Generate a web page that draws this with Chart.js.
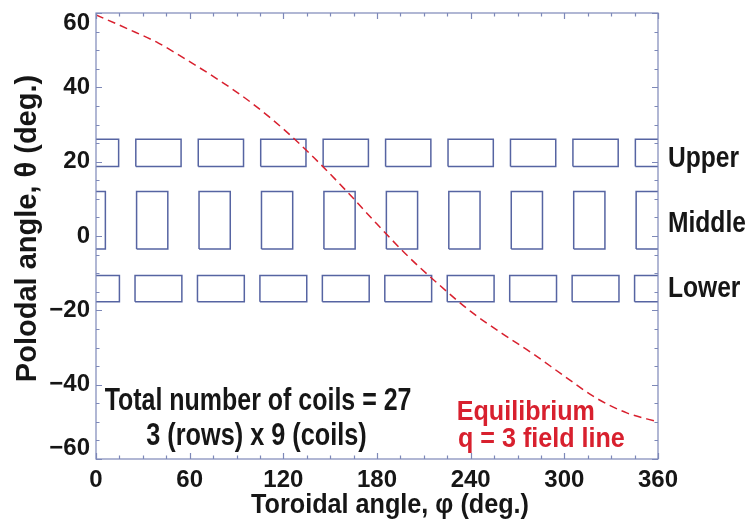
<!DOCTYPE html>
<html>
<head>
<meta charset="utf-8">
<script src="https://cdn.jsdelivr.net/npm/chart.js@4.4.1/dist/chart.umd.min.js"></script>
<style>
  html, body { margin: 0; padding: 0; background: #fff; }
  #wrap { width: 750px; height: 529px; position: relative; }
</style>
</head>
<body>
<div id="wrap"><canvas id="coilChart"></canvas></div>
<script>
// ==========================================
// 1. DATA
// ==========================================
// q = 3 equilibrium field line: toroidal angle (deg) -> poloidal angle (deg)
const phiSamples   = [0, 20, 40, 60, 80, 100, 120, 140, 160, 180, 200, 220, 240, 260, 280, 300, 320, 340, 360];
const thetaSamples = [59.5, 55.8, 51.9, 46.9, 41.6, 35.7, 28.8, 20.9, 12.3, 3.2, -5.5, -13.2, -20.3, -26.2, -31.7, -37.7, -43.5, -47.6, -50];

// coil centres in toroidal angle (9 per row, 0 and 360 are the same coil)
const upperCenters  = [0, 40, 80, 120, 160, 200, 240, 280, 320, 360];
const middleCenters = [-4, 36, 76, 116, 156, 196, 236, 276, 316, 356];
const lowerCenters  = [0, 40, 80, 120, 160, 200, 240, 280, 320, 360];

// coil half-width in toroidal angle, and poloidal extent [bottom, top]
const upperHalfWidth  = 14.5;
const middleHalfWidth = 10;
const lowerHalfWidth  = 15;
const upperTheta  = [18.7, 26];
const middleTheta = [-3.5, 12];
const lowerTheta  = [-17.7, -10.6];

const xTickValues = [0, 60, 120, 180, 240, 300, 360];
const yTickValues = [-60, -40, -20, 0, 20, 40, 60];
const rowLabels = ['Upper', 'Middle', 'Lower'];

// ==========================================
// 2. STYLE
// ==========================================
const SANS = '"Liberation Sans", Arial, sans-serif';
const TEXT = '#161616';
const RED = '#d8202e';
const FRAME = '#7d88b8';
const COIL = '#5664a2';

// outline of each coil as a closed path, null between coils
function coilOutline(centers, half, theta) {
  const pts = [];
  centers.forEach((c) => {
    pts.push({ x: c - half, y: theta[0] }, { x: c + half, y: theta[0] },
             { x: c + half, y: theta[1] }, { x: c - half, y: theta[1] },
             { x: c - half, y: theta[0] }, { x: c, y: null });
  });
  return pts;
}

const minus = (v) => String(v).replace('-', '\u2212');

// text squeezed horizontally (the figure uses a condensed face)
function squeezed(ctx, str, x, y, sx) {
  ctx.save();
  ctx.translate(x, y);
  ctx.scale(sx, 1);
  ctx.fillText(str, 0, 0);
  ctx.restore();
}

// frame, inward ticks, y labels, titles and the text notes
const frameAndNotes = {
  id: 'frameAndNotes',
  afterDatasetsDraw(chart) {
    const { ctx, chartArea: a, scales: { x, y } } = chart;
    ctx.save();
    ctx.strokeStyle = FRAME;
    ctx.lineWidth = 1.2;
    ctx.strokeRect(a.left, a.top, a.right - a.left, a.bottom - a.top);

    ctx.beginPath();
    for (let v = 0; v <= 360; v += 15) {
      const px = Math.round(x.getPixelForValue(v)) + 0.5;
      const len = xTickValues.includes(v) ? 6 : 3.5;
      ctx.moveTo(px, a.bottom); ctx.lineTo(px, a.bottom - len);
      ctx.moveTo(px, a.top); ctx.lineTo(px, a.top + len);
    }
    for (let v = -60; v <= 60; v += 5) {
      const py = Math.round(y.getPixelForValue(v)) + 0.5;
      const len = yTickValues.includes(v) ? 6 : 3.5;
      ctx.moveTo(a.left, py); ctx.lineTo(a.left + len, py);
      ctx.moveTo(a.right, py); ctx.lineTo(a.right - len, py);
    }
    ctx.stroke();

    // y tick labels, end labels kept inside the frame as in the figure
    ctx.fillStyle = TEXT;
    ctx.font = `bold 24px ${SANS}`;
    ctx.textAlign = 'right';
    ctx.textBaseline = 'middle';
    y.ticks.forEach((t) => {
      const py = Math.min(Math.max(y.getPixelForValue(t.value), a.top + 10), a.bottom - 11);
      ctx.fillText(minus(t.value), a.left - 6, py);
    });

    // axis titles
    ctx.textAlign = 'center';
    ctx.textBaseline = 'alphabetic';
    ctx.font = `bold 28px ${SANS}`;
    squeezed(ctx, 'Toroidal angle, \u03c6 (deg.)', (a.left + a.right) / 2 + 13, 513, 0.9);
    ctx.save();
    ctx.translate(27.5, (a.top + a.bottom) / 2 - 7.5);
    ctx.rotate(-Math.PI / 2);
    ctx.textBaseline = 'middle';
    ctx.font = `bold 29px ${SANS}`;
    ctx.fillText('Polodal angle, \u03b8 (deg.)', 0, 0);
    ctx.restore();

    // coil-count note
    ctx.font = `bold 32px ${SANS}`;
    squeezed(ctx, 'Total number of coils = 27', x.getPixelForValue(103.8), y.getPixelForValue(-46.7), 0.78);
    squeezed(ctx, '3 (rows) x 9 (coils)', x.getPixelForValue(102.8), y.getPixelForValue(-56.3), 0.79);

    // field line note
    ctx.fillStyle = RED;
    ctx.textAlign = 'left';
    ctx.font = `bold 27px ${SANS}`;
    squeezed(ctx, 'Equilibrium', x.getPixelForValue(231.1), y.getPixelForValue(-49.6), 0.93);
    squeezed(ctx, 'q = 3 field line', x.getPixelForValue(231.9), y.getPixelForValue(-56.7), 0.93);

    // row names right of the plot
    ctx.fillStyle = TEXT;
    ctx.font = `bold 30px ${SANS}`;
    const rowBaseTheta = [18.5, 1.1, -16.4];
    rowLabels.forEach((lbl, i) => {
      squeezed(ctx, lbl, a.right + 10, y.getPixelForValue(rowBaseTheta[i]), 0.82);
    });
    ctx.restore();
  }
};

// ==========================================
// 3. CHART
// ==========================================
const lineStyle = { showLine: true, pointRadius: 0, borderWidth: 1.5, fill: false, spanGaps: false };

new Chart(document.getElementById('coilChart'), {
  type: 'scatter',
  data: {
    datasets: [
      {
        ...lineStyle,
        label: 'q = 3 field line',
        data: phiSamples.map((p, i) => ({ x: p, y: thetaSamples[i] })),
        borderColor: RED,
        borderDash: [8, 5],
        cubicInterpolationMode: 'monotone',
        order: 0
      },
      { ...lineStyle, label: 'Upper', data: coilOutline(upperCenters, upperHalfWidth, upperTheta), borderColor: COIL, order: 1 },
      { ...lineStyle, label: 'Middle', data: coilOutline(middleCenters, middleHalfWidth, middleTheta), borderColor: COIL, order: 1 },
      { ...lineStyle, label: 'Lower', data: coilOutline(lowerCenters, lowerHalfWidth, lowerTheta), borderColor: COIL, order: 1 }
    ]
  },
  options: {
    responsive: true,
    maintainAspectRatio: false,
    animation: false,
    layout: { padding: { top: 13, right: 92, left: 0, bottom: 0 } },
    plugins: { legend: { display: false }, tooltip: { enabled: false } },
    scales: {
      x: {
        type: 'linear', min: 0, max: 360,
        grid: { display: false, drawTicks: false },
        border: { display: false },
        afterBuildTicks: (s) => { s.ticks = xTickValues.map(v => ({ value: v })); },
        ticks: { padding: 6.5, color: TEXT, maxRotation: 0, font: { family: SANS, size: 24, weight: 'bold' } },
        afterFit: (s) => { s.height = 70; s.paddingLeft = 0; s.paddingRight = 0; }
      },
      y: {
        type: 'linear', min: -60, max: 60,
        grid: { display: false, drawTicks: false },
        border: { display: false },
        afterBuildTicks: (s) => { s.ticks = yTickValues.map(v => ({ value: v })); },
        ticks: { display: false },
        afterFit: (s) => { s.width = 96; s.paddingTop = 0; s.paddingBottom = 0; }
      }
    }
  },
  plugins: [frameAndNotes]
});
</script>
</body>
</html>
